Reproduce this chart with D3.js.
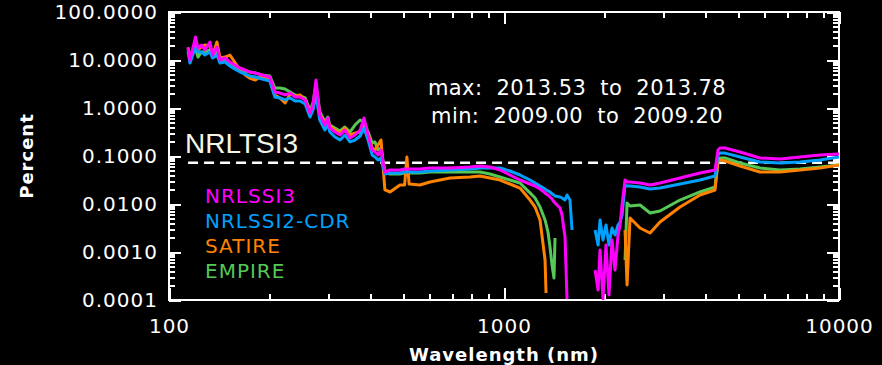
<!DOCTYPE html>
<html>
	<head>
		<title>Solar spectral irradiance variability</title>
		<meta http-equiv='Content-Type' content='text/html;charset=utf-8'/>
		<style>
		body {
			margin: 0;
			background: #000000;
		}
		svg text {
			font-family: 'DejaVu Sans', sans-serif;
			fill: #ffffff;
		}
		.axis line {
			stroke: #ffffff;
			stroke-width: 2px;
			shape-rendering: crispEdges;
		}
		.axis path {
			display: none;
		}
		</style>
	</head>

	<body>
	<script src='https://d3js.org/d3.v7.min.js'></script>

	<script>
	'use strict';

	// wavelength grid (nm), shared by all four models; null = no (positive) value
	const wavelength = [114, 115.5, 120, 122, 125, 128, 132.5, 135, 139, 142,
		147, 152, 157, 163, 169, 174, 181, 189.5, 200, 207,
		214.5, 222, 230, 238, 246, 255, 263.6, 269, 274.6, 282,
		292, 298, 302, 313, 324, 335, 347, 359, 372, 382,
		393, 404, 412, 420.6, 429.4, 441, 457, 489, 505, 513, 521, 561,
		601, 690, 792, 848, 908, 973, 1042, 1116, 1196, 1238,
		1281, 1326, 1335, 1353, 1372, 1391, 1410, 1420, 1470, 1490,
		1521, 1542, 1574, 1596, 1700, 1870, 1909, 1935, 1975, 2016,
		2058, 2101, 2145, 2190, 2221, 2251, 2298, 2330, 2378, 2547,
		2729, 2922, 3353, 3847, 4265, 4353, 4414, 4568, 5064, 5811,
		6667, 7648, 8777, 10000];

	const nrlssi3 = [18.7, 10.0, 30.1, 17.8, 20.5, 16.2, 23.7, 12.7, 18.7, 10.0,
		11.0, 9.09, 7.87, 6.81, 6.19, 5.62, 5.36, 4.87, 4.42, 2.15,
		2.05, 1.87, 2.05, 1.69, 1.69, 1.47, 0.787, 1.155, 3.83, 0.715,
		0.442, 0.619, 0.383, 0.316, 0.274, 0.348, 0.237, 0.274, 0.348, 0.619,
		0.274, 0.133, 0.121, 0.105, 0.133, 0.0464, 0.0511, 0.0511, 0.0536, 0.0536, 0.0536, 0.0536,
		0.0562, 0.0562, 0.059, 0.0619, 0.059, 0.0511, 0.0402, 0.0316, 0.0261, 0.0237,
		0.0205, 0.0170, 0.0162, 0.0154, 0.0140, 0.0127, 0.0110, 0.0105, 0.00825, 0.0059,
		0.00205, 0.000105, null, null, null, 0.000422, 0.000162, 0.0011, 0.000105, 0.0014,
		0.000127, 0.00178, 0.000422, 0.00226, 0.00365, 0.00953, 0.0316, 0.0287, 0.0287, 0.0274,
		0.0249, 0.0274, 0.0348, 0.0442, 0.0511, 0.133, 0.147, 0.147, 0.121, 0.0909,
		0.0866, 0.0953, 0.105, 0.110];

	const nrlssi2 = [14.7, 8.66, 18.7, 14.7, 14.7, 12.7, 14.7, 11.0, 12.7, 8.66,
		9.09, 7.5, 6.49, 5.62, 5.11, 4.64, 4.42, 4.02, 3.65, 1.69,
		1.62, 1.47, 1.62, 1.40, 1.40, 1.21, 0.649, 0.909, 1.87, 0.562,
		0.348, 0.464, 0.316, 0.249, 0.215, 0.274, 0.196, 0.215, 0.261, 0.383,
		0.215, 0.105, 0.0953, 0.0825, 0.0909, 0.0422, 0.0442, 0.0442, 0.0464, 0.0464, 0.0464, 0.0464,
		0.0487, 0.0511, 0.0536, 0.0562, 0.0562, 0.0562, 0.0487, 0.0402, 0.0316, 0.0274,
		0.0237, 0.0205, 0.0196, 0.0187, 0.0178, 0.0162, 0.0154, 0.0147, 0.0140, 0.0133,
		0.0121, 0.0154, 0.0121, 0.00287, null, 0.00287, 0.0014, 0.00464, 0.00178, 0.00365,
		0.0014, 0.00316, 0.00226, 0.00365, 0.00422, 0.0059, 0.0249, 0.0237, 0.0237, 0.0226,
		0.0205, 0.0215, 0.0261, 0.0316, 0.0383, 0.105, 0.115, 0.115, 0.0953, 0.075,
		0.0715, 0.075, 0.0825, 0.0953];

	const satire = [17.8, 11.0, 23.7, 16.2, 18.7, 20.5, 19.6, 12.1, 23.7, 11.0,
		11.5, 12.7, 9.09, 6.19, 4.87, 4.22, 3.83, 4.64, 3.83, 1.87,
		1.62, 1.27, 1.96, 1.78, 1.87, 1.47, 0.825, 1.10, 2.61, 0.715,
		0.511, 0.562, 0.422, 0.348, 0.301, 0.383, 0.274, 0.301, 0.316, 0.442,
		0.287, 0.147, 0.133, 0.170, 0.215, 0.0196, 0.0178, 0.0249, 0.0249, 0.0953, 0.0261, 0.0249,
		0.0287, 0.0348, 0.0365, 0.0383, 0.0348, 0.0316, 0.0261, 0.0215, 0.0121, 0.00866,
		0.00464, 0.00068, 0.00014, null, null, null, null, null, null, null,
		null, null, null, null, null, null, null, null, null, null,
		null, null, null, null, null, null, 0.00287, 0.000205, 0.00511, 0.00316,
		0.00249, 0.00422, 0.00866, 0.0154, 0.0196, 0.075, 0.0825, 0.0787, 0.0619, 0.0464,
		0.0464, 0.0511, 0.0562, 0.0649];

	const empire = [16.2, 11.0, 17.8, 11.5, 14.7, 14.7, 16.2, 11.5, 14.7, 9.09,
		10.0, 8.66, 7.5, 6.49, 5.90, 5.62, 5.36, 4.87, 4.64, 2.61,
		2.61, 2.49, 2.15, 1.87, 1.78, 1.62, 0.909, 1.27, 3.01, 0.825,
		0.511, 0.649, 0.442, 0.383, 0.332, 0.402, 0.316, 0.442, 0.562, 0.511,
		0.316, 0.187, 0.196, 0.133, 0.147, 0.0464, 0.0422, 0.0422, 0.0442, 0.0442, 0.0442, 0.0442,
		0.0464, 0.0464, 0.0464, 0.0464, 0.0422, 0.0365, 0.0316, 0.0274, 0.0170, 0.0133,
		0.00866, 0.00464, 0.00383, 0.00261, 0.00127, 0.000536, 0.000287, 0.00196, null, null,
		null, null, null, null, null, null, null, null, null, null,
		null, null, null, null, null, null, 0.00068, 0.0105, 0.00909, 0.00953,
		0.00649, 0.00715, 0.0121, 0.0178, 0.0226, 0.0825, 0.0909, 0.0909, 0.0715, 0.0562,
		0.0511, 0.0536, 0.059, 0.0649];

	const seriesNames = ['NRLSSI3', 'NRLSSI2-CDR', 'SATIRE', 'EMPIRE'];
	const seriesColors = ['#ff00ff', '#00a0ff', '#ff8200', '#55c855'];
	const seriesValues = [nrlssi3, nrlssi2, satire, empire];

	const tsiPercent = 0.072;
	const xTicks = [100, 1000, 10000];
	const yTicks = [0.0001, 0.001, 0.01, 0.1, 1, 10, 100];
	const annotations = ['max:  2013.53  to  2013.78', 'min:  2009.00  to  2009.20'];

	const width = 882;
	const height = 365;
	const margin = {top: 12, right: 43, bottom: 65, left: 169};

	const x = d3.scaleLog()
		.domain([100, 10000])
		.range([margin.left, width - margin.right]);

	const y = d3.scaleLog()
		.domain([0.0001, 100])
		.range([height - margin.bottom, margin.top]);

	// minor ticks 2..9 in every decade
	const xMinor = [];
	[100, 1000].forEach(function(d) { for (let k = 2; k < 10; k++) xMinor.push(d * k); });
	const yMinor = [];
	[0.0001, 0.001, 0.01, 0.1, 1, 10].forEach(function(d) { for (let k = 2; k < 10; k++) yMinor.push(d * k); });

	const svg = d3.select('body').append('svg')
		.attr('width', width)
		.attr('height', height)
		.style('display', 'block')
		.style('background', '#000000');

	svg.append('defs').append('clipPath')
		.attr('id', 'plot-clip')
	  .append('rect')
		.attr('x', x.range()[0])
		.attr('y', y.range()[1])
		.attr('width', x.range()[1] - x.range()[0])
		.attr('height', y.range()[0] - y.range()[1]);

	const x0 = x.range()[0], x1 = x.range()[1];
	const y0 = y.range()[0], y1 = y.range()[1];

	// axes: long major ticks, short minor ticks, all pointing inward
	function axis(gen, tr, values, size, fmt, pad) {
		const g = svg.append('g')
			.attr('class', 'axis')
			.attr('transform', tr)
			.call(gen.tickValues(values).tickSize(-size).tickPadding(pad || 0).tickFormat(fmt || ''));
		g.selectAll('text')
			.attr('fill', '#ffffff')
			.style('font-size', '20px')
			.style('letter-spacing', '1px');
		return g;
	}

	axis(d3.axisBottom(x), 'translate(0,' + y0 + ')', xTicks, 12, d3.format('d'), 19);
	axis(d3.axisBottom(x), 'translate(0,' + y0 + ')', xMinor, 6);
	axis(d3.axisTop(x), 'translate(0,' + y1 + ')', xTicks, 12);
	axis(d3.axisTop(x), 'translate(0,' + y1 + ')', xMinor, 6);
	axis(d3.axisLeft(y), 'translate(' + x0 + ',0)', yTicks, 12, d3.format('.4f'), 11);
	axis(d3.axisLeft(y), 'translate(' + x0 + ',0)', yMinor, 6);
	axis(d3.axisRight(y), 'translate(' + x1 + ',0)', yTicks, 12);
	axis(d3.axisRight(y), 'translate(' + x1 + ',0)', yMinor, 6);

	// frame
	svg.append('rect')
		.attr('x', x0)
		.attr('y', y1)
		.attr('width', x1 - x0)
		.attr('height', y0 - y1)
		.attr('fill', 'none')
		.attr('stroke', '#ffffff')
		.attr('stroke-width', 2);

	// TSI reference level
	svg.append('line')
		.attr('x1', x(wavelength[0]))
		.attr('x2', x(10000))
		.attr('y1', y(tsiPercent))
		.attr('y2', y(tsiPercent))
		.attr('stroke', '#ffffff')
		.attr('stroke-width', 2.5)
		.attr('stroke-dasharray', '10,6');

	svg.append('text')
		.attr('x', 185)
		.attr('y', y(tsiPercent) - 10)
		.style('font-family', '"Liberation Sans", Arial, sans-serif')
		.style('font-size', '28px')
		.style('fill', '#f5f5e6')
		.text('NRLTSI3');

	// spectra (drawn back to front)
	const line = d3.line()
		.defined(function(d) { return d[1] != null; })
		.x(function(d) { return x(d[0]); })
		.y(function(d) { return y(d[1]); });

	const plot = svg.append('g').attr('clip-path', 'url(#plot-clip)');
	[3, 2, 1, 0].forEach(function(i) {
		const pts = wavelength.map(function(w, j) { return [w, seriesValues[i][j]]; });
		plot.append('path')
			.datum(pts)
			.attr('fill', 'none')
			.attr('stroke', seriesColors[i])
			.attr('stroke-width', 3)
			.attr('stroke-linejoin', 'round')
			.attr('d', line);
	});

	// legend
	svg.selectAll('.legend')
		.data(seriesNames)
		.enter().append('text')
		  .attr('class', 'legend')
		  .attr('x', 205)
		  .attr('y', function(d, i) { return 203 + i * 25; })
		  .style('fill', function(d, i) { return seriesColors[i]; })
		  .style('font-size', '20px')
		  .style('letter-spacing', '1px')
		  .text(function(d) { return d; });

	// date ranges
	svg.selectAll('.note')
		.data(annotations)
		.enter().append('text')
		  .attr('class', 'note')
		  .attr('x', 577)
		  .attr('y', function(d, i) { return 95 + i * 28; })
		  .attr('text-anchor', 'middle')
		  .style('white-space', 'pre')
		  .style('font-size', '21px')
		  .style('letter-spacing', '0.4px')
		  .text(function(d) { return d; });

	// axis titles
	svg.append('text')
		.attr('x', (x0 + x1) / 2)
		.attr('y', 361)
		.attr('text-anchor', 'middle')
		.style('font-size', '18px')
		.style('font-weight', 'bold')
		.style('letter-spacing', '1px')
		.text('Wavelength (nm)');

	svg.append('text')
		.attr('transform', 'translate(33,156) rotate(-90)')
		.attr('text-anchor', 'middle')
		.style('font-size', '18px')
		.style('font-weight', 'bold')
		.style('letter-spacing', '1px')
		.text('Percent');
	</script>
</body>
</html>
